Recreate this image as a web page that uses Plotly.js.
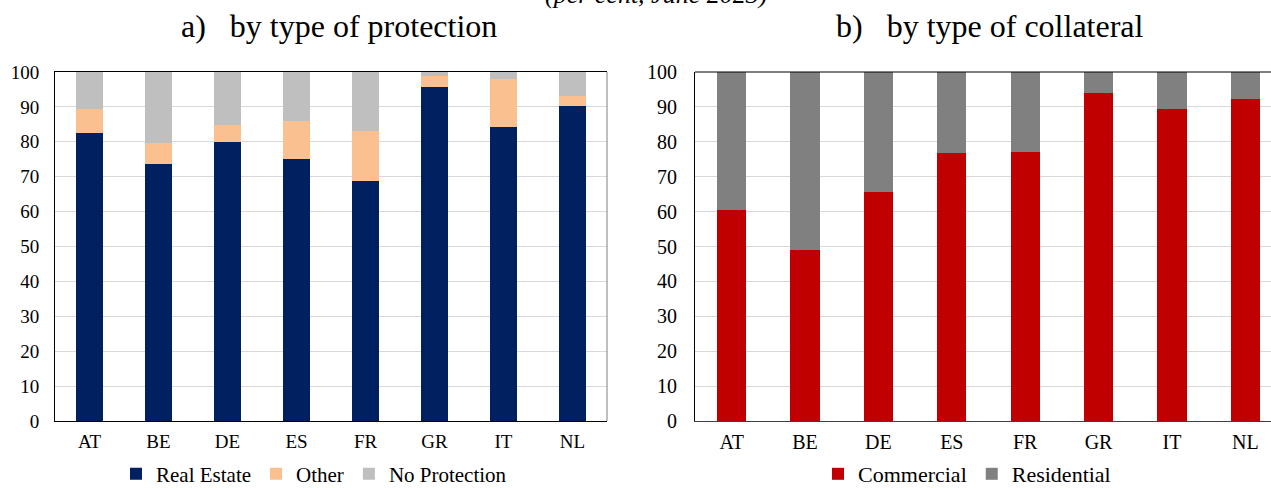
<!DOCTYPE html>
<html>
<head>
<meta charset="utf-8">
<script src="https://cdn.plot.ly/plotly-3.0.1.min.js"></script>
<style>
  html, body { margin: 0; padding: 0; background: #fff; }
  #chart { width: 1271px; height: 488px; }
</style>
</head>
<body>
<div id="chart"></div>
<script>
// ---- data ----
const countries = ['AT', 'BE', 'DE', 'ES', 'FR', 'GR', 'IT', 'NL'];
// a) by type of protection (per cent)
const realEstate   = [82.6, 73.6, 80.0, 75.2, 68.8, 95.8, 84.1, 90.3];
const otherProt    = [6.8, 6.1, 4.7, 10.8, 14.3, 3.1, 13.8, 2.9];
const noProtection = [10.6, 20.3, 15.3, 14.0, 16.9, 1.1, 2.1, 6.8];
// b) by type of collateral (per cent)
const commercial   = [60.5, 49.1, 65.7, 76.9, 77.2, 94.0, 89.4, 92.3];
const residential  = [39.5, 50.9, 34.3, 23.1, 22.8, 6.0, 10.6, 7.7];
const yTicks = [0, 10, 20, 30, 40, 50, 60, 70, 80, 90, 100];

const serif = '"Liberation Serif", "Times New Roman", serif';

const traces = [
  {type: 'bar', name: 'Real Estate', x: countries, y: realEstate, xaxis: 'x', yaxis: 'y',
   marker: {color: '#002060'}, legend: 'legend'},
  {type: 'bar', name: 'Other', x: countries, y: otherProt, xaxis: 'x', yaxis: 'y',
   marker: {color: '#FAC090'}, legend: 'legend'},
  {type: 'bar', name: 'No Protection', x: countries, y: noProtection, xaxis: 'x', yaxis: 'y',
   marker: {color: '#BFBFBF'}, legend: 'legend'},
  {type: 'bar', name: 'Commercial', x: countries, y: commercial, xaxis: 'x2', yaxis: 'y2',
   marker: {color: '#C00000'}, legend: 'legend2'},
  {type: 'bar', name: 'Residential', x: countries, y: residential, xaxis: 'x2', yaxis: 'y2',
   marker: {color: '#808080'}, legend: 'legend2'}
];

const W = 1271, H = 488;
const plotTop = 72, plotBottom = 421;
const ph = plotBottom - plotTop;
const py = p => (plotBottom - p) / ph;

const layout = {
  width: W, height: H,
  margin: {l: 0, r: 0, t: plotTop, b: H - plotBottom, pad: 0, autoexpand: false},
  paper_bgcolor: '#fff', plot_bgcolor: '#fff',
  barmode: 'stack', bargap: 0.6,
  font: {family: serif, color: '#000'},
  showlegend: true,
  xaxis: {
    domain: [55 / W, 607 / W], range: [-0.5, 7.5], type: 'category',
    showline: true, linecolor: '#000', linewidth: 1, mirror: true,
    showgrid: false, ticks: '', ticklabelstandoff: 3,
    tickfont: {family: serif, size: 19, color: '#000'}, fixedrange: true
  },
  yaxis: {
    domain: [0, 1], range: [0, 100], tickvals: yTicks,
    showline: true, linecolor: '#000', linewidth: 1,
    showgrid: true, gridcolor: '#D9D9D9', gridwidth: 1, zeroline: false,
    ticks: '', ticklabelstandoff: 11,
    tickfont: {family: serif, size: 19, color: '#000'}, fixedrange: true
  },
  xaxis2: {
    domain: [695 / W, 1], range: [-0.5, 7.35], type: 'category', anchor: 'y2',
    showline: true, linecolor: '#404040', linewidth: 1,
    showgrid: false, ticks: '', ticklabelstandoff: 3,
    tickfont: {family: serif, size: 20, color: '#000'}, fixedrange: true
  },
  yaxis2: {
    domain: [0, 1], range: [0, 100], tickvals: yTicks, anchor: 'x2',
    showline: true, linecolor: '#000', linewidth: 1,
    showgrid: true, gridcolor: '#D9D9D9', gridwidth: 1, zeroline: false,
    ticks: '', ticklabelstandoff: 13,
    tickfont: {family: serif, size: 20, color: '#000'}, fixedrange: true
  },
  legend: {
    orientation: 'h', x: 314 / W, xanchor: 'center', y: py(474), yanchor: 'middle',
    font: {family: serif, size: 21, color: '#000'}, itemwidth: 30,
    bgcolor: 'rgba(0,0,0,0)', traceorder: 'normal'
  },
  legend2: {
    orientation: 'h', x: 967 / W, xanchor: 'center', y: py(474), yanchor: 'middle',
    font: {family: serif, size: 22, color: '#000'}, itemwidth: 30,
    bgcolor: 'rgba(0,0,0,0)', traceorder: 'normal'
  },
  shapes: [
    {type: 'line', xref: 'x domain', yref: 'y domain', x0: 1, x1: 1, y0: 0, y1: 1,
     line: {color: '#808080', width: 1}},
    {type: 'line', xref: 'x2 domain', yref: 'y2 domain', x0: 0, x1: 1, y0: 1, y1: 1,
     line: {color: '#000', width: 1}}
  ],
  annotations: [
    {text: '<i>(per cent, June 2023)</i>', xref: 'paper', yref: 'paper',
     x: 656 / W, y: py(-6), xanchor: 'center', yanchor: 'middle', showarrow: false,
     font: {family: serif, size: 26, color: '#000'}},
    {text: 'a)&nbsp;&nbsp;&nbsp;by type of protection', xref: 'paper', yref: 'paper',
     x: 339 / W, y: py(26), xanchor: 'center', yanchor: 'middle', showarrow: false,
     font: {family: serif, size: 32, color: '#000'}},
    {text: 'b)&nbsp;&nbsp;&nbsp;by type of collateral', xref: 'paper', yref: 'paper',
     x: 990 / W, y: py(26), xanchor: 'center', yanchor: 'middle', showarrow: false,
     font: {family: serif, size: 32, color: '#000'}}
  ]
};

Plotly.newPlot('chart', traces, layout, {displayModeBar: false, staticPlot: true});
</script>
</body>
</html>
